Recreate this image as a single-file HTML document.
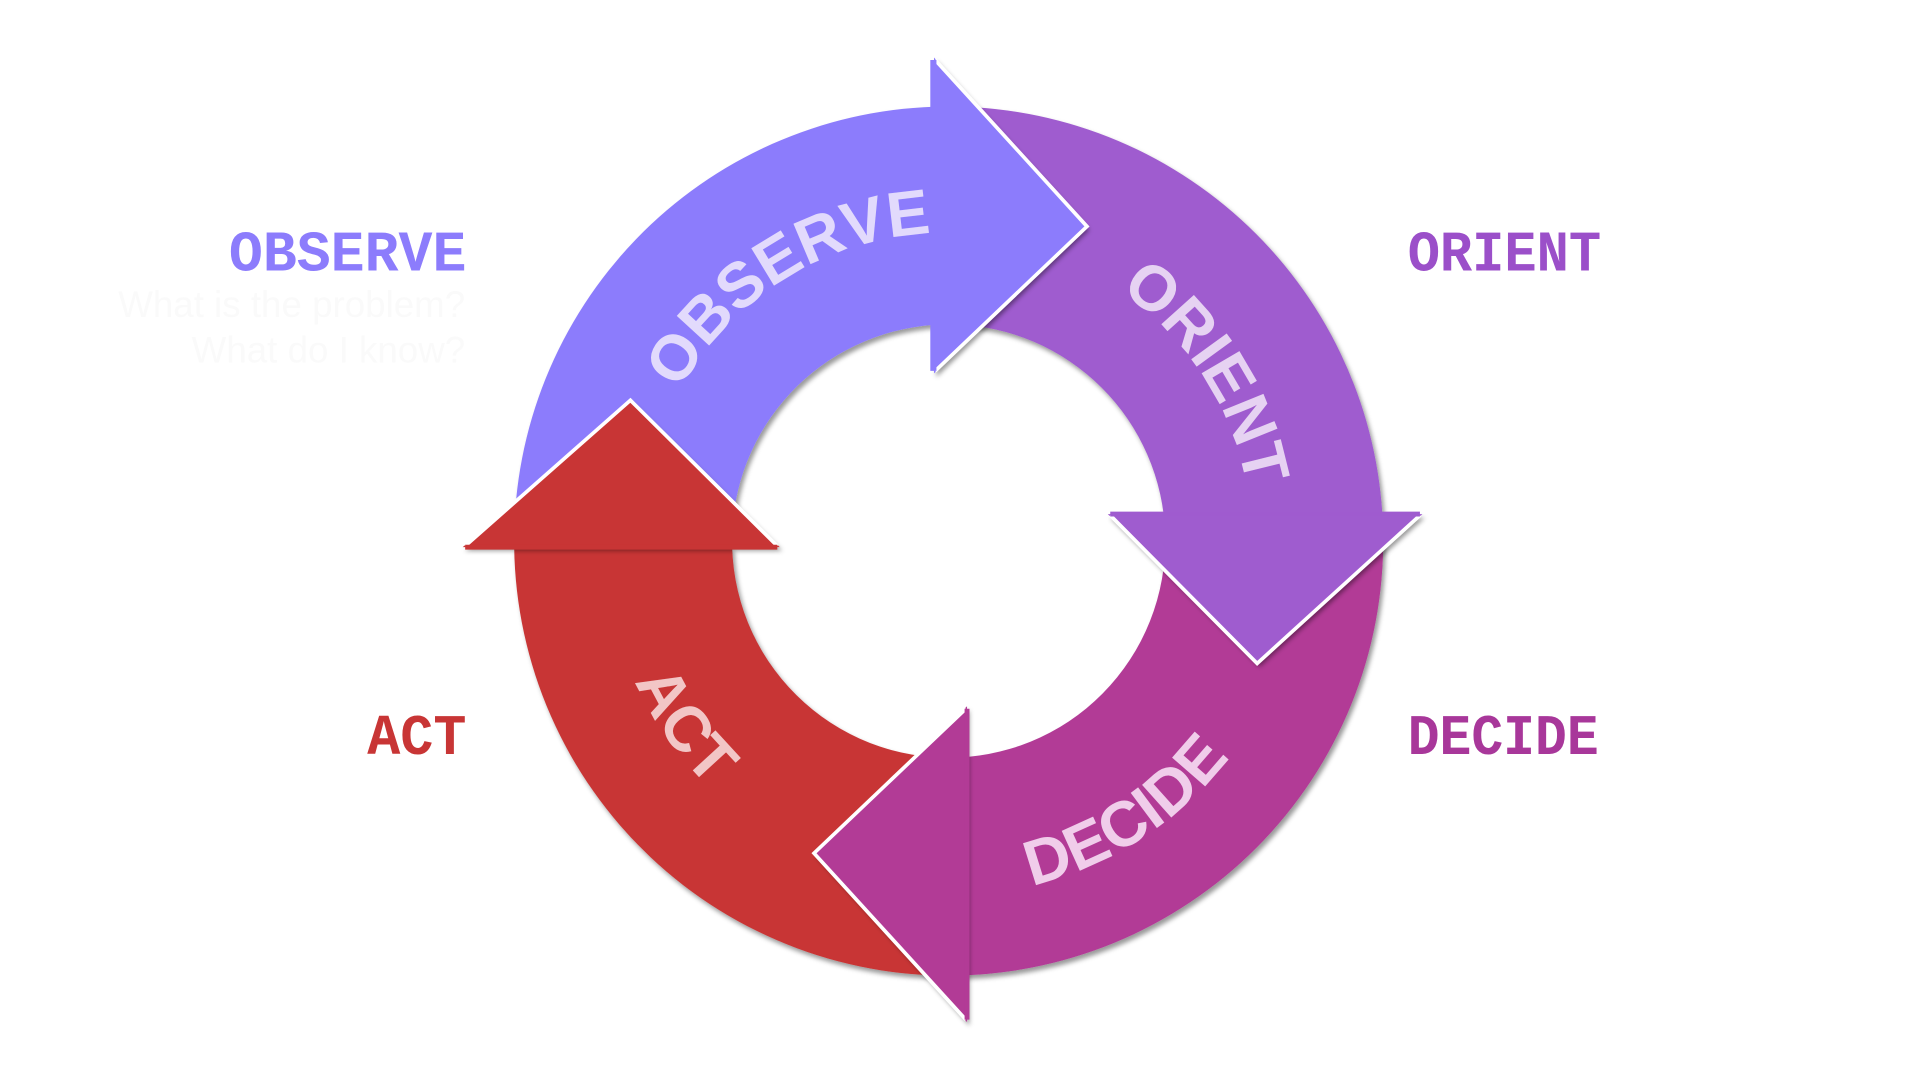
<!DOCTYPE html>
<html><head><meta charset="utf-8"><style>
html,body{margin:0;padding:0;background:#fff;width:1920px;height:1080px;overflow:hidden}
svg{display:block}
</style></head><body>
<svg width="1920" height="1080" viewBox="0 0 1568.5 882.3" xmlns="http://www.w3.org/2000/svg">
<defs>
<filter id="sh" x="-20%" y="-20%" width="140%" height="140%">
<feDropShadow dx="2" dy="3" stdDeviation="2" flood-color="#000" flood-opacity="0.4"/>
</filter>
<path id="pObs" d="M562.4,569.7 A248,248 0 0 1 983.1,306.9"/>
<path id="pOri" d="M643.6,231.7 A248,248 0 0 1 913.7,647.6"/>
<path id="pDec" d="M534.6,604.2 A290,290 0 0 0 1020.9,288.3"/>
<path id="pAct" d="M609.2,213.9 A282,282 0 0 0 932.6,675.8"/>
</defs>

<g filter="url(#sh)">
<path fill="#8c7cfc" d="M420,442 A355,355 0 0 1 763,87.2 L763,265.4 A177,177 0 0 0 598,442 Z"/>
<path fill="#9f5bcf" d="M763,87.2 A355,355 0 0 1 1129.3,420 L950.6,420 A177,177 0 0 0 763,265.4 Z"/>
<path fill="#b23b96" d="M1129.3,420 A355,355 0 0 1 790,796.7 L790,618.4 A177,177 0 0 0 950.6,420 Z"/>
<path fill="#c83535" d="M790,796.7 A355,355 0 0 1 420.04,447 L598.1,447 A177,177 0 0 0 790,618.4 Z"/>
</g>
<g filter="url(#sh)">
<polygon fill="#8c7cfc" points="763,47 888,185 763,305"/>
<polygon fill="#9f5bcf" points="905,420 1162,420 1027,542"/>
<polygon fill="#b23b96" points="790,577 790,835 665,697"/>
<polygon fill="#c83535" points="637,447 378,447 515,327"/>
</g>
<g fill="none" stroke="#fff" stroke-width="3">
<polyline points="764,49 888,185 764,303"/>
<polyline points="907,421 1027,542 1160,421"/>
<polyline points="789,579 665,697 789,833"/>
<polyline points="635,446 515,327 380,446"/>
</g>
<g>
<polygon fill="#8c7cfc" points="760,49 765,49 765,303 760,303"/>
<polygon fill="#9f5bcf" points="907,418 1160,418 1160,422 907,422"/>
<polygon fill="#b23b96" points="788,579 792,579 792,833 788,833"/>
<polygon fill="#c83535" points="380,445 635,445 635,449 380,449"/>
</g>

<g font-family="Liberation Sans, sans-serif" font-weight="bold" font-size="52" text-anchor="middle">
<text fill="#e2dafc"><textPath href="#pObs" startOffset="50%">OBSERVE</textPath></text>
<text fill="#e6d2f2"><textPath href="#pOri" startOffset="50%">ORIENT</textPath></text>
<text fill="#f0cdea"><textPath href="#pDec" startOffset="50%">DECIDE</textPath></text>
<text fill="#f2c6c6"><textPath href="#pAct" startOffset="50%">ACT</textPath></text>
</g>

<g font-family="Liberation Mono, monospace" font-weight="bold" font-size="47">
<text x="187" y="221" fill="#8c7cfc" textLength="194" lengthAdjust="spacingAndGlyphs">OBSERVE</text>
<text x="1150" y="221" fill="#9b4fc9" textLength="158" lengthAdjust="spacingAndGlyphs">ORIENT</text>
<text x="1150" y="616" fill="#a8379a" textLength="156" lengthAdjust="spacingAndGlyphs">DECIDE</text>
<text x="300" y="616" fill="#c83535" textLength="81" lengthAdjust="spacingAndGlyphs">ACT</text>
</g>
<g font-family="Liberation Sans, sans-serif" font-size="30" fill="#fafafa" text-anchor="end">
<text x="380" y="259">What is the problem?</text>
<text x="380" y="296">What do I know?</text>
</g>
</svg>
</body></html>
